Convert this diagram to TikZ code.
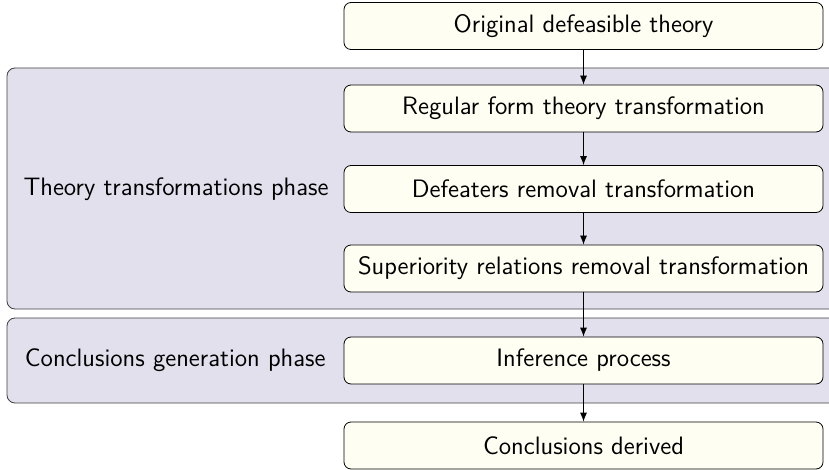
\documentclass[tikz,border=0pt]{standalone}
\usetikzlibrary{arrows.meta}
\definecolor{boxfill}{RGB}{254,254,242}
\definecolor{phasefill}{RGB}{227,224,238}
\begin{document}
\begin{tikzpicture}[x=0.5pt,y=-0.5pt,
  stepbox/.style={draw=black, line width=0.4pt, rounded corners=3.5pt, fill=boxfill,
    minimum width=239.5pt, minimum height=23.5pt, inner sep=0pt,
    font=\sffamily\fontsize{12.6}{15}\selectfont},
  phaselabel/.style={anchor=east, inner sep=0pt, font=\sffamily\fontsize{12.6}{15}\selectfont},
  phase/.style={draw=black!75, line width=0.4pt, fill=phasefill, rounded corners=4pt},
  arr/.style={-{Latex[length=4.5pt,width=3.5pt]}, line width=0.4pt}]
\useasboundingbox (0,0) rectangle (829,470);
\clip (0,0) rectangle (829,470);
\draw[phase] (7,68) rectangle (870,309);
\draw[phase] (7,318) rectangle (870,403);
\node[stepbox] (o) at (583.5,26) {Original defeasible theory};
\node[stepbox] (r) at (583.5,108.5) {Regular form theory transformation};
\node[stepbox] (d) at (583.5,189) {Defeaters removal transformation};
\node[stepbox] (s) at (583.5,268.5) {Superiority relations removal transformation};
\node[stepbox] (i) at (583.5,360.5) {Inference process};
\node[stepbox] (c) at (583.5,445.5) {Conclusions derived};
\node[phaselabel] (l1) at (329,189) {Theory transformations phase};
\node[phaselabel] (l2) at (326,360.5) {Conclusions generation phase};
\draw[arr] (o) -- (r);
\draw[arr] (r) -- (d);
\draw[arr] (d) -- (s);
\draw[arr] (s) -- (i);
\draw[arr] (i) -- (c);
\end{tikzpicture}
\end{document}
